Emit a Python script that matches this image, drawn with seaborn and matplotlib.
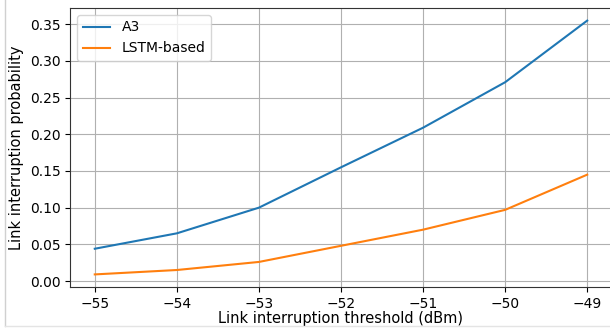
import numpy as np
import pandas as pd
import seaborn as sns
import matplotlib.pyplot as plt
from matplotlib.lines import Line2D

# Values
thresholds = [-55, -54, -53, -52, -51, -50, -49]
a3_prob = [0.044, 0.065, 0.100, 0.155, 0.209, 0.271, 0.355]
lstm_prob = [0.009, 0.015, 0.026, 0.048, 0.070, 0.097, 0.145]
series_names = ['A3', 'LSTM-based']

df = pd.DataFrame({
    'threshold': thresholds * 2,
    'prob': a3_prob + lstm_prob,
    'method': [series_names[0]] * len(thresholds) + [series_names[1]] * len(thresholds),
})

plt.rcParams['font.family'] = ['DejaVu Sans']

fig = plt.figure(figsize=(6.1, 3.3), dpi=100)
ax = fig.add_axes([0.115, 0.13, 0.888, 0.846])

sns.lineplot(data=df, x='threshold', y='prob', hue='method',
             palette=['#1f77b4', '#ff7f0e'], linewidth=1.5, ax=ax)

ax.set_xticks(thresholds)
ax.set_yticks(np.arange(0, 0.36, 0.05))
ax.set_yticklabels([f'{v:.2f}' for v in np.arange(0, 0.36, 0.05)])
ax.grid(True, color='#b0b0b0', linewidth=0.8)
ax.set_axisbelow(True)
ax.tick_params(labelsize=10)
ax.set_xlabel('Link interruption threshold (dBm)', fontsize=10.5, labelpad=0)
ax.set_ylabel('Link interruption probability', fontsize=10.5)
ax.legend(title=None, loc='upper left', fontsize=10)
for s in ax.spines.values():
    s.set_color('#333333')

# faint frame lines from the original screenshot
fig.add_artist(Line2D([0.009, 0.009], [0.012, 1.0], color='#d0d0d0', linewidth=1))
fig.add_artist(Line2D([0.009, 1.0], [0.012, 0.012], color='#e4e4e4', linewidth=1))

fig.savefig('out.png', dpi=100)
